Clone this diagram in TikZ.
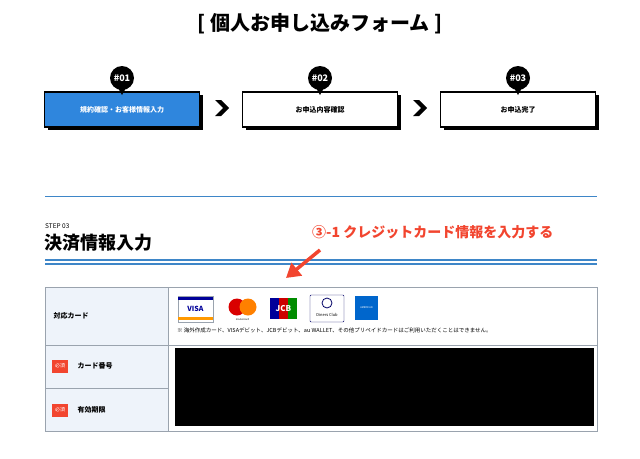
\documentclass[tikz,border=0pt]{standalone}
\usepackage{fontspec}
\setmainfont{Noto Sans CJK JP}
\usetikzlibrary{arrows.meta}
\definecolor{sblue}{HTML}{2F86DD}
\definecolor{lblue}{HTML}{3E86C8}
\definecolor{cellbg}{HTML}{EEF3FA}
\definecolor{gridc}{HTML}{9AA3AE}
\definecolor{redt}{HTML}{F2452F}
\tikzset{
  stepbox/.style={draw=black,line width=1.2pt,minimum width=155pt,minimum height=35pt,font=\fontsize{7}{8}\selectfont\bfseries,inner sep=0pt},
  shadowbox/.style={fill=black,minimum width=155pt,minimum height=35pt,inner sep=0pt},
  bubble/.style={circle,fill=black,minimum size=24pt,inner sep=0pt,text=white,font=\fontsize{9}{9}\selectfont\bfseries},
  lab/.style={font=\fontsize{7}{8}\selectfont\bfseries,anchor=west},
  badge/.style={fill=redt,text=white,font=\fontsize{5}{5}\selectfont,minimum width=16pt,minimum height=13pt,inner sep=0pt}
}
\begin{document}
\begin{tikzpicture}[x=1pt,y=-1pt]
\useasboundingbox[fill=white] (0,0) rectangle (640,458);
\node (title) at (320,24) {\fontsize{20}{22}\selectfont\bfseries [ 個人お申し込みフォーム ]};
% steps
\foreach \n/\cx/\txt/\fc/\tc in {1/122/規約確認・お客様情報入力/sblue/white,2/320/お申込内容確認/white/black,3/518/お申込完了/white/black}{
  \node[shadowbox] at (\cx+3,112.5) {};
  \node[stepbox,fill=\fc,text=\tc] (s\n) at (\cx,109.5) {\txt};
  \fill (\cx-5,86) -- (\cx+5,86) -- (\cx,95) -- cycle;
  \node[bubble] (b\n) at (\cx,78) {\#0\n};
}
\foreach \x/\nm in {222/c1,420/c2}{
  \coordinate (\nm) at (\x,108);
  \fill (\x-7,100) -- (\x-1,100) -- (\x+7,108) -- (\x-1,116) -- (\x-7,116) -- (\x+1,108) -- cycle;
}
% section
\draw[lblue,line width=1pt] (45,196) -- (597,196);
\node[anchor=west,inner sep=0pt] (stp) at (45,226) {\fontsize{6.5}{7}\selectfont STEP 03};
\node[anchor=west,inner sep=0pt] (sec) at (44,243) {\fontsize{18}{20}\selectfont\bfseries 決済情報入力};
\draw[lblue,line width=1.5pt] (45,260) -- (597,260);
\draw[lblue,line width=1.5pt] (45,264) -- (597,264);
\node[anchor=west,inner sep=0pt,text=redt] (ann) at (312,232) {\fontsize{14}{15}\selectfont\bfseries ③-1 クレジットカード情報を入力する};
\coordinate (tip) at (286,278);
\draw[redt,line width=3.5pt,-{Triangle[length=14pt,width=16pt]}] (320,250) -- (tip);
% table
\fill[cellbg] (45,287) rectangle (168,431);
\draw[gridc,line width=0.6pt] (45,287) rectangle (597,431);
\draw[gridc,line width=0.6pt] (168,287) -- (168,431);
\draw[gridc,line width=0.6pt] (45,345) -- (597,345);
\draw[gridc,line width=0.6pt] (45,388) -- (168,388);
\node[lab] (l1) at (50,316) {対応カード};
\node[badge] (bd1) at (60,366) {必須};
\node[lab] (l2) at (74,366) {カード番号};
\node[badge] (bd2) at (60,410) {必須};
\node[lab] (l3) at (74,410) {有効期限};
% card logos
\draw[gridc,fill=white] (178,296) rectangle (213,322);
\fill[blue!60!black] (178,297) rectangle (213,300);
\fill[orange!80!yellow] (178,317) rectangle (213,320);
\node (visa) at (195.5,308.5) {\fontsize{7}{7}\selectfont\bfseries\itshape\color{blue!60!black}VISA};
\fill[red!85!black] (237,307) circle (8.5);
\fill[orange] (248,307) circle (8.5);
\node (mc) at (242.5,320) {\fontsize{2.5}{3}\selectfont mastercard};
\fill[blue!60!black] (270,298) rectangle (279,319);
\fill[red!80!black] (279,298) rectangle (288,319);
\fill[green!55!black] (288,298) rectangle (297,319);
\node (jcb) at (283.5,309) {\fontsize{8}{8}\selectfont\bfseries\color{white}JCB};
\draw[blue!40!black,fill=white,rounded corners=1pt] (310,295) rectangle (344,322);
\draw[blue!40!black,line width=0.8pt] (327,303) circle (5);
\node (din) at (327,315) {\fontsize{4}{4}\selectfont Diners Club};
\fill[blue!50!cyan!80!black] (355,296) rectangle (378,320);
\node (amx) at (366.5,308) {\fontsize{2.5}{3}\selectfont\color{white}AMERICAN};
\node[anchor=west,inner sep=0pt] (note) at (177,330) {\fontsize{5.5}{6}\selectfont ※ 海外作成カード、VISAデビット、JCBデビット、au WALLET、その他プリペイドカードはご利用いただくことはできません。};
\fill (175,348) rectangle (594,426);
\end{tikzpicture}
\end{document}
